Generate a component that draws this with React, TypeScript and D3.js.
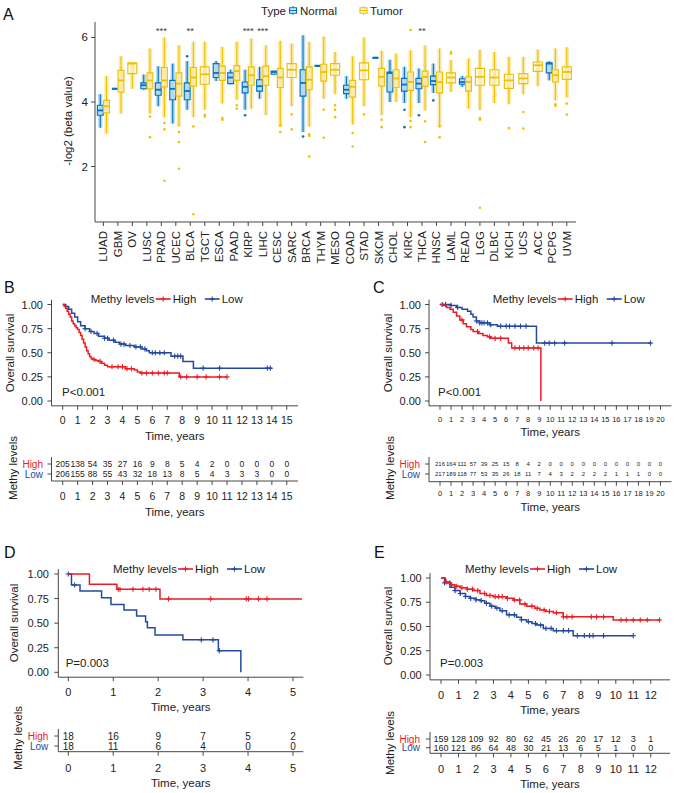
import React from "react";
import * as d3 from "d3";

const FONT = "'Liberation Sans', Arial, Helvetica, sans-serif";
const BLUE_A = "#0073C2";
const GOLD = "#EFC000";
const RED = "#EC1C24";
const BLUE = "#2548A2";
const AX = "#333";

// ---------------- Panel A data ----------------
const categories = ["LUAD","GBM","OV","LUSC","PRAD","UCEC","BLCA","TGCT","ESCA","PAAD","KIRP","LIHC","CESC","SARC","BRCA","THYM","MESO","COAD","STAD","SKCM","CHOL","KIRC","THCA","HNSC","LAML","READ","LGG","DLBC","KICH","UCS","ACC","PCPG","UVM"];
// [lower whisker, q1, median, q3, upper whisker]
const normalStats: (number[] | null)[] = [
  [3.20,3.59,3.74,3.90,4.24],
  [4.41,4.41,4.41,4.41,4.41],
  null,
  [4.38,4.41,4.52,4.59,4.85],
  [3.87,4.21,4.38,4.59,5.11],
  [3.33,4.07,4.41,4.67,5.19],
  [3.76,4.07,4.34,4.59,5.27],
  null,
  [4.65,4.76,4.90,5.19,5.27],
  [4.55,4.57,4.76,4.90,5.00],
  [3.76,4.28,4.47,4.62,5.00],
  [4.10,4.34,4.49,4.69,5.09],
  [4.86,4.86,4.93,4.96,4.96],
  null,
  [3.07,4.18,4.59,5.00,6.07],
  [5.12,5.12,5.12,5.12,5.12],
  null,
  [4.10,4.26,4.38,4.52,4.80],
  null,
  [5.37,5.37,5.37,5.37,5.37],
  [4.00,4.31,4.90,4.93,5.31],
  [3.97,4.34,4.54,4.73,5.09],
  [3.97,4.41,4.57,4.73,5.04],
  [4.28,4.54,4.65,4.80,5.19],
  null,
  [4.47,4.55,4.62,4.72,4.80],
  null, null, null, null, null,
  [4.67,4.90,5.19,5.21,5.26],
  null,
];
const tumorStats: number[][] = [
  [3.02,3.66,3.87,4.05,4.80],
  [3.64,4.31,4.67,4.98,5.42],
  [4.41,4.88,5.19,5.21,5.21],
  [3.64,4.41,4.67,4.90,5.66],
  [3.53,4.47,4.67,5.07,6.00],
  [3.24,4.18,4.57,4.90,5.76],
  [3.53,4.49,4.76,5.07,5.87],
  [3.76,4.55,4.86,5.09,5.87],
  [3.95,4.67,4.90,5.11,5.71],
  [4.07,4.67,4.96,5.13,5.87],
  [3.79,4.52,4.83,5.09,5.97],
  [3.59,4.52,4.80,5.11,5.76],
  [3.24,4.45,4.76,5.04,5.90],
  [3.87,4.76,5.00,5.19,5.81],
  [3.24,4.38,4.69,5.09,5.87],
  [4.10,4.65,4.93,5.17,6.03],
  [4.24,4.83,5.00,5.19,5.55],
  [3.30,4.15,4.47,4.67,5.42],
  [3.87,4.69,4.98,5.21,6.00],
  [3.59,4.49,4.78,5.04,5.59],
  [4.00,4.45,4.73,5.00,5.50],
  [3.53,4.36,4.62,4.93,5.60],
  [3.74,4.49,4.78,4.96,5.75],
  [3.22,4.28,4.62,4.93,5.66],
  [4.31,4.59,4.76,4.90,5.30],
  [3.79,4.34,4.62,4.78,5.35],
  [3.75,4.52,4.78,5.04,5.62],
  [3.97,4.52,4.76,5.00,5.55],
  [3.93,4.42,4.67,4.86,5.40],
  [4.24,4.57,4.73,4.88,5.40],
  [4.49,4.95,5.14,5.24,5.63],
  [4.05,4.62,4.83,5.00,5.66],
  [4.14,4.70,4.93,5.09,5.70],
];
const normalOutliers: [string, number][] = [
  ["BLCA",5.42],["BRCA",2.93],["KIRP",3.59],["KIRC",3.76],["KIRC",3.22],["THCA",3.59],["HNSC",4.05],
];
const tumorOutliers: [string, number][] = [
  ["LUSC",2.91],["LUSC",3.55],["PRAD",3.15],["PRAD",1.56],["PRAD",3.35],["UCEC",3.07],["UCEC",2.76],["UCEC",1.93],
  ["BLCA",3.24],["BLCA",0.52],["TGCT",3.60],["TGCT",3.55],["ESCA",3.50],["ESCA",3.45],["PAAD",3.90],["PAAD",3.80],
  ["CESC",3.07],["CESC",3.27],["SARC",3.62],["SARC",3.15],["BRCA",2.31],["BRCA",3.00],["BRCA",2.95],
  ["THYM",3.76],["THYM",2.89],["MESO",3.90],["MESO",3.76],["MESO",3.53],["COAD",3.04],["COAD",2.62],
  ["STAD",3.62],["SKCM",3.45],["SKCM",3.22],["KIRC",6.23],["KIRC",3.41],["KIRC",3.22],["THCA",2.76],["THCA",3.40],
  ["HNSC",3.25],["HNSC",2.91],["LAML",5.55],["LAML",5.50],["LGG",0.72],["LGG",3.50],["LGG",3.45],["KICH",3.19],
  ["UCS",3.69],["UCS",3.18],["PCPG",3.93],["PCPG",3.88],["UVM",3.95],["UVM",3.61],
];
const sigLabels: [string, string][] = [["PRAD","***"],["BLCA","**"],["KIRP","***"],["LIHC","***"],["THCA","**"]];
const yTicksA = [2, 4, 6];

// ---------------- KM data ----------------
const bHighT = [0,0.1,0.2,0.3,0.4,0.5,0.6,0.7,0.8,0.9,1.0,1.1,1.2,1.3,1.4,1.5,1.6,1.7,1.8,1.9,2.0,2.2,2.4,2.6,2.8,3.0,4.2,4.8,5.0,5.2,7.8,11.0];
const bHighS = [1,0.98,0.96,0.93,0.90,0.87,0.83,0.80,0.78,0.76,0.74,0.71,0.68,0.64,0.60,0.56,0.52,0.49,0.46,0.44,0.43,0.42,0.41,0.39,0.37,0.355,0.335,0.32,0.30,0.29,0.25,0.25];
const bHighC = [2.1,2.5,3.3,3.7,4.0,4.3,4.6,5.3,5.6,6.0,6.4,6.8,7.0,7.9,8.3,9.0,9.6,10.5,11.0];
const bLowT = [0,0.2,0.4,0.6,0.8,1.0,1.2,1.5,1.8,2.1,2.4,2.8,3.1,3.5,3.8,4.2,4.8,5.3,5.6,5.8,7.25,8.05,8.75,14.0];
const bLowS = [1,0.98,0.95,0.91,0.87,0.82,0.78,0.75,0.72,0.70,0.67,0.65,0.63,0.61,0.59,0.575,0.56,0.54,0.52,0.50,0.465,0.41,0.34,0.34];
const bLowC = [1.5,1.9,2.3,2.8,3.0,3.4,3.9,4.1,4.5,4.9,5.2,5.5,6.0,6.2,6.5,6.8,7.5,7.7,7.9,9.4,10.5,13.7,13.9];
const bRiskHigh = [205,138,54,35,27,16,9,8,5,4,2,0,0,0,0,0];
const bRiskLow = [206,155,88,55,43,32,18,13,8,5,4,3,3,3,0,0];

const cHighT = [0,0.3,0.6,0.9,1.2,1.5,1.8,2.1,2.4,2.8,3.0,3.5,3.9,4.3,4.6,6.2,6.5,9.15];
const cHighS = [1,0.99,0.97,0.95,0.92,0.88,0.84,0.80,0.77,0.74,0.72,0.70,0.68,0.665,0.65,0.60,0.55,0];
const cHighC = [2.0,3.4,4.5,5.0,5.5,6.8,7.2,7.6,8.0,8.5,8.9];
const cLowT = [0,1.0,1.5,2.0,2.5,2.8,3.0,3.3,3.6,4.5,5.2,8.75,19.1];
const cLowS = [1,0.99,0.97,0.95,0.93,0.90,0.87,0.83,0.81,0.79,0.775,0.60,0.60];
const cLowC = [0.2,0.5,1.0,1.6,3.3,3.6,3.8,4.0,4.3,4.6,5.5,6.0,6.3,6.8,7.3,7.8,9.5,9.9,10.4,11.3,15.6,19.1];
const cRiskHigh = [216,164,111,57,39,25,15,8,4,2,0,0,0,0,0,0,0,0,0,0,0];
const cRiskLow = [217,189,118,77,53,35,26,18,11,7,4,3,2,2,2,2,1,1,1,0,0];

const dHighT = [0,0.47,1.08,2.04,5.2];
const dHighS = [1,0.895,0.845,0.746,0.746];
const dHighC = [1.11,1.15,1.44,1.66,1.80,1.95,2.23,3.17,3.96,4.01,4.23,4.42];
const dLowT = [0,0.07,0.26,0.74,0.95,1.24,1.52,1.72,1.76,1.93,2.55,3.34,3.84];
const dLowS = [1,0.888,0.827,0.759,0.69,0.634,0.573,0.515,0.454,0.38,0.33,0.22,0];
const dLowC = [0,0.14,2.96,3.22,3.36];
const dRiskHigh = [18,16,9,7,5,2];
const dRiskLow = [18,11,6,4,0,0];

const eHighT = [0,0.25,0.5,0.8,1.1,1.5,1.85,2.23,2.6,3.0,3.75,4.13,4.51,4.9,5.37,5.66,6.0,6.42,6.99,9.85,12.5];
const eHighS = [1,0.96,0.93,0.915,0.90,0.885,0.87,0.84,0.82,0.807,0.79,0.773,0.732,0.71,0.687,0.67,0.655,0.642,0.60,0.567,0.567];
const eHighC = [0.3,0.6,0.9,1.2,1.5,1.8,2.1,2.5,2.8,3.1,3.3,3.5,3.8,4.2,4.5,4.8,5.2,5.5,5.9,6.2,6.6,7.0,7.2,7.5,8.6,8.9,9.3,10.3,10.6,11.0,11.4,11.8,12.5];
const eLowT = [0,0.2,0.51,0.8,1.09,1.4,1.66,2.0,2.23,2.5,2.8,3.1,3.37,3.75,4.32,4.6,4.9,5.2,5.47,5.85,6.42,7.56,10.99];
const eLowS = [1,0.95,0.904,0.87,0.84,0.81,0.79,0.775,0.766,0.74,0.71,0.69,0.663,0.62,0.595,0.57,0.55,0.53,0.515,0.48,0.457,0.405,0.405];
const eLowC = [0.2,0.5,0.8,1.1,1.4,1.7,2.0,2.3,2.6,2.9,3.2,3.5,3.9,4.2,4.6,5.0,5.4,5.7,6.0,6.3,6.6,7.0,7.3,7.8,8.2,8.5,8.7,9.3,11.0];
const eRiskHigh = [159,128,109,92,80,62,45,26,20,17,12,3,1];
const eRiskLow = [160,121,86,64,48,30,21,13,6,5,1,0,0];

const survTicks = [0, 0.25, 0.5, 0.75, 1];

function survAt(times: number[], surv: number[], t: number) {
  let s = surv[0];
  for (let i = 0; i < times.length; i++) if (times[i] <= t) s = surv[i];
  return s;
}

function Cross({ x, y, color, r = 3 }: { x: number; y: number; color: string; r?: number }) {
  return (
    <g stroke={color} strokeWidth={1.1}>
      <line x1={x - r} x2={x + r} y1={y} y2={y} />
      <line x1={x} x2={x} y1={y - r} y2={y + r} />
    </g>
  );
}

function PanelA() {
  const x = d3.scalePoint<string>().domain(categories).range([103.4, 566.8]);
  const y = d3.scaleLinear().domain([0.28, 6.48]).range([222, 22]);
  const left = 95, right = 576, bottom = 222, top = 22;

  const drawBox = (cx: number, w: number, s: number[], color: string, key: string, cloudOp: number) => {
    const [lo, q1, md, q3, hi] = s;
    const x0 = cx - w / 2, x1 = cx + w / 2;
    const flat = hi === lo;
    return (
      <g key={key}>
        {!flat && <line x1={cx} x2={cx} y1={y(hi)} y2={y(q3)} stroke={color} strokeWidth={1.1} />}
        {!flat && <line x1={cx} x2={cx} y1={y(q1)} y2={y(lo)} stroke={color} strokeWidth={1.1} />}
        <path d={`M${x0},${y(q3)}H${x1}V${y(q1)}H${x0}Z`} fill="#fff" stroke={color} strokeWidth={1.2} />
        {!flat && (
          <rect x={cx - 2.2} width={4.4} y={y(hi)} height={y(lo) - y(hi)} fill={color} opacity={cloudOp} />
        )}
        <line x1={x0} x2={x1} y1={y(md)} y2={y(md)} stroke={color} strokeWidth={flat ? 2.2 : 1.8} />
      </g>
    );
  };

  return (
    <g fontFamily={FONT}>
      <text x={3} y={20} fontSize={16} fill="#111">A</text>
      {/* legend */}
      <text x={261} y={10.5} fontSize={11.5} dominantBaseline="central" fill="#222">Type</text>
      <g>
        <line x1={293} x2={293} y1={6} y2={15} stroke={BLUE_A} strokeWidth={1} />
        <rect x={289.5} y={7.8} width={7} height={5.4} fill="#fff" stroke={BLUE_A} strokeWidth={1.1} />
        <line x1={289.5} x2={296.5} y1={10.5} y2={10.5} stroke={BLUE_A} strokeWidth={1.3} />
      </g>
      <text x={300} y={10.5} fontSize={11.5} dominantBaseline="central" fill="#222">Normal</text>
      <g>
        <line x1={363.5} x2={363.5} y1={6} y2={15} stroke={GOLD} strokeWidth={1} />
        <rect x={360} y={7.8} width={7} height={5.4} fill="#fff" stroke={GOLD} strokeWidth={1.1} />
        <line x1={360} x2={367} y1={10.5} y2={10.5} stroke={GOLD} strokeWidth={1.3} />
      </g>
      <text x={370} y={10.5} fontSize={11.5} dominantBaseline="central" fill="#222">Tumor</text>

      {/* boxes */}
      {categories.map((c, i) => {
        const cx = x(c)!;
        const ns = normalStats[i];
        const ts = tumorStats[i];
        if (ns) {
          return (
            <g key={c}>
              {drawBox(cx - 3.1, 5.8, ns, BLUE_A, c + "n", 0.28)}
              {drawBox(cx + 3.1, 5.8, ts, GOLD, c + "t", 0.33)}
            </g>
          );
        }
        return <g key={c}>{drawBox(cx, 9, ts, GOLD, c + "t", 0.33)}</g>;
      })}
      {tumorOutliers.map(([c, v], i) => {
        const off = normalStats[categories.indexOf(c)] ? 3.1 : 0;
        return <circle key={"to" + i} cx={x(c)! + off} cy={y(v)} r={1.3} fill={GOLD} />;
      })}
      {normalOutliers.map(([c, v], i) => (
        <circle key={"no" + i} cx={x(c)! - 3.1} cy={y(v)} r={1.3} fill={BLUE_A} />
      ))}
      {sigLabels.map(([c, s]) => (
        <text key={c} x={x(c)!} y={34} fontSize={9.5} textAnchor="middle" fill="#444">{s}</text>
      ))}

      {/* axes */}
      <line x1={left} x2={left} y1={top} y2={bottom} stroke={AX} strokeWidth={0.9} />
      <line x1={left} x2={right} y1={bottom} y2={bottom} stroke={AX} strokeWidth={0.9} />
      {yTicksA.map((t) => (
        <g key={t}>
          <line x1={left - 4} x2={left} y1={y(t)} y2={y(t)} stroke={AX} strokeWidth={0.9} />
          <text x={left - 7} y={y(t)} fontSize={11.5} textAnchor="end" dominantBaseline="central" fill="#222">{t}</text>
        </g>
      ))}
      {categories.map((c) => (
        <g key={"xt" + c}>
          <line x1={x(c)!} x2={x(c)!} y1={bottom} y2={bottom + 4} stroke={AX} strokeWidth={0.9} />
          <text transform={`translate(${x(c)!},${bottom + 9}) rotate(-90)`} fontSize={11.5} textAnchor="end" dominantBaseline="central" fill="#222">{c}</text>
        </g>
      ))}
      <text transform={`translate(68,121) rotate(-90)`} fontSize={11.5} textAnchor="middle" dominantBaseline="central" fill="#222">-log2 (beta value)</text>
    </g>
  );
}

type KMProps = {
  label: string; labelX: number; labelY: number;
  xDomain: [number, number]; xRange: [number, number];
  y0: number; y1: number; yLabelRight: number; survTitleX: number; survTitleY: number;
  ticks: number[]; tickFont: number; tickLabelY: number; xTitleY: number;
  pText: string; pX: number; pY: number;
  legendX: number; legendY: number;
  highT: number[]; highS: number[]; highC: number[];
  lowT: number[]; lowS: number[]; lowC: number[];
  riskHigh: number[]; riskLow: number[];
  riskHighY: number; riskLowY: number; riskAxisY: number; riskTickLabelY: number; riskTitleY: number;
  methyX: number; methyY: number; rowLabelRight: number; riskFont: number;
};

function KMPanel(p: KMProps) {
  const x = d3.scaleLinear().domain(p.xDomain).range(p.xRange);
  const y = d3.scaleLinear().domain([0, 1]).range([p.y0, p.y1]);
  const line = d3.line<[number, number]>().x((d) => x(d[0])).y((d) => y(d[1])).curve(d3.curveStepAfter);
  const axY = y(-0.05), topY = y(1.05);
  const [xl, xr] = p.xRange;
  const xc = (xl + xr) / 2;
  const series = [
    { t: p.lowT, s: p.lowS, c: p.lowC, color: BLUE },
    { t: p.highT, s: p.highS, c: p.highC, color: RED },
  ];
  const lx = p.legendX, ly = p.legendY;
  return (
    <g fontFamily={FONT} fill="#222">
      <text x={p.labelX} y={p.labelY} fontSize={16} fill="#111">{p.label}</text>
      {/* curves */}
      {series.map((sr, k) => (
        <g key={k}>
          <path d={line(sr.t.map((t, i) => [t, sr.s[i]] as [number, number])) || ""} fill="none" stroke={sr.color} strokeWidth={1.5} />
          {sr.c.map((ct, i) => (
            <Cross key={i} x={x(ct)} y={y(survAt(sr.t, sr.s, ct))} color={sr.color} r={2.6} />
          ))}
        </g>
      ))}
      {/* legend */}
      <text x={lx} y={ly} fontSize={11.5} dominantBaseline="central">Methy levels</text>
      <line x1={lx + 65} x2={lx + 80} y1={ly} y2={ly} stroke={RED} strokeWidth={1.6} />
      <Cross x={lx + 72.5} y={ly} color={RED} r={2.6} />
      <text x={lx + 82} y={ly} fontSize={11.5} dominantBaseline="central">High</text>
      <line x1={lx + 114} x2={lx + 129} y1={ly} y2={ly} stroke={BLUE} strokeWidth={1.6} />
      <Cross x={lx + 121.5} y={ly} color={BLUE} r={2.6} />
      <text x={lx + 131} y={ly} fontSize={11.5} dominantBaseline="central">Low</text>
      {/* axes */}
      <line x1={xl} x2={xl} y1={topY} y2={axY} stroke={AX} strokeWidth={0.9} />
      <line x1={xl} x2={xr} y1={axY} y2={axY} stroke={AX} strokeWidth={0.9} />
      {survTicks.map((t) => (
        <g key={t}>
          <line x1={xl - 4} x2={xl} y1={y(t)} y2={y(t)} stroke={AX} strokeWidth={0.9} />
          <text x={p.yLabelRight} y={y(t)} fontSize={11} textAnchor="end" dominantBaseline="central">{t.toFixed(2)}</text>
        </g>
      ))}
      {p.ticks.map((t) => (
        <g key={"x" + t}>
          <line x1={x(t)} x2={x(t)} y1={axY} y2={axY + 4} stroke={AX} strokeWidth={0.9} />
          <text x={x(t)} y={p.tickLabelY} fontSize={p.tickFont} textAnchor="middle" dominantBaseline="central">{t}</text>
        </g>
      ))}
      <text x={xc} y={p.xTitleY} fontSize={11.5} textAnchor="middle" dominantBaseline="central">Time, years</text>
      <text transform={`translate(${p.survTitleX},${p.survTitleY}) rotate(-90)`} fontSize={11.5} textAnchor="middle" dominantBaseline="central">Overall survival</text>
      <text x={p.pX} y={p.pY} fontSize={11.5} dominantBaseline="central">{p.pText}</text>
      {/* risk table */}
      <line x1={xl} x2={xl} y1={p.riskHighY - 7} y2={p.riskAxisY} stroke={AX} strokeWidth={0.9} />
      <line x1={xl} x2={xr} y1={p.riskAxisY} y2={p.riskAxisY} stroke={AX} strokeWidth={0.9} />
      {[p.riskHighY, p.riskLowY].map((ry) => (
        <line key={ry} x1={xl - 4} x2={xl} y1={ry} y2={ry} stroke={AX} strokeWidth={0.9} />
      ))}
      <text x={p.rowLabelRight} y={p.riskHighY} fontSize={10} textAnchor="end" dominantBaseline="central" fill={RED}>High</text>
      <text x={p.rowLabelRight} y={p.riskLowY} fontSize={10} textAnchor="end" dominantBaseline="central" fill={BLUE}>Low</text>
      {p.riskHigh.map((v, i) => (
        <text key={"rh" + i} x={x(p.ticks[i])} y={p.riskHighY} fontSize={p.riskFont} textAnchor="middle" dominantBaseline="central">{v}</text>
      ))}
      {p.riskLow.map((v, i) => (
        <text key={"rl" + i} x={x(p.ticks[i])} y={p.riskLowY} fontSize={p.riskFont} textAnchor="middle" dominantBaseline="central">{v}</text>
      ))}
      {p.ticks.map((t) => (
        <g key={"rx" + t}>
          <line x1={x(t)} x2={x(t)} y1={p.riskAxisY} y2={p.riskAxisY + 4} stroke={AX} strokeWidth={0.9} />
          <text x={x(t)} y={p.riskTickLabelY} fontSize={p.tickFont} textAnchor="middle" dominantBaseline="central">{t}</text>
        </g>
      ))}
      <text x={xc} y={p.riskTitleY} fontSize={11.5} textAnchor="middle" dominantBaseline="central">Time, years</text>
      <text transform={`translate(${p.methyX},${p.methyY}) rotate(-90)`} fontSize={11.5} textAnchor="middle" dominantBaseline="central">Methy levels</text>
    </g>
  );
}

export default function App() {
  return (
    <svg width={678} height={793} style={{ position: "absolute", left: 0, top: 0, background: "#fff" }}>
      <rect width={678} height={793} fill="#fff" />
      <PanelA />
      <KMPanel
        label="B" labelX={4} labelY={293}
        xDomain={[-0.75, 15.75]} xRange={[51.5, 298]} y0={401} y1={304.5}
        yLabelRight={43} survTitleX={10} survTitleY={353}
        ticks={d3.range(0, 16)} tickFont={10.5} tickLabelY={420} xTitleY={436}
        pText="P<0.001" pX={62} pY={392} legendX={90.7} legendY={299}
        highT={bHighT} highS={bHighS} highC={bHighC} lowT={bLowT} lowS={bLowS} lowC={bLowC}
        riskHigh={bRiskHigh} riskLow={bRiskLow}
        riskHighY={464} riskLowY={474} riskAxisY={481} riskTickLabelY={495.7} riskTitleY={511.7}
        methyX={12.5} methyY={468} rowLabelRight={43} riskFont={8.5}
      />
      <KMPanel
        label="C" labelX={373} labelY={293}
        xDomain={[-1, 21]} xRange={[429, 671.5]} y0={401} y1={304.5}
        yLabelRight={421} survTitleX={387.5} survTitleY={353}
        ticks={d3.range(0, 21)} tickFont={7.5} tickLabelY={419.3} xTitleY={432.3}
        pText="P<0.001" pX={438} pY={392} legendX={492.7} legendY={299}
        highT={cHighT} highS={cHighS} highC={cHighC} lowT={cLowT} lowS={cLowS} lowC={cLowC}
        riskHigh={cRiskHigh} riskLow={cRiskLow}
        riskHighY={464} riskLowY={474} riskAxisY={481.7} riskTickLabelY={493.3} riskTitleY={506.7}
        methyX={389.5} methyY={468} rowLabelRight={420} riskFont={6}
      />
      <KMPanel
        label="D" labelX={4} labelY={558}
        xDomain={[-0.223, 5.23]} xRange={[58.3, 303.3]} y0={672.3} y1={574}
        yLabelRight={49} survTitleX={14} survTitleY={623}
        ticks={d3.range(0, 6)} tickFont={11} tickLabelY={692.3} xTitleY={706.7}
        pText="P=0.003" pX={65.7} pY={663.3} legendX={113} legendY={569}
        highT={dHighT} highS={dHighS} highC={dHighC} lowT={dLowT} lowS={dLowS} lowC={dLowC}
        riskHigh={dRiskHigh} riskLow={dRiskLow}
        riskHighY={736} riskLowY={746} riskAxisY={751.7} riskTickLabelY={768.3} riskTitleY={782.7}
        methyX={17.5} methyY={738} rowLabelRight={48.3} riskFont={10}
      />
      <KMPanel
        label="E" labelX={374} labelY={558}
        xDomain={[-0.63, 13.1]} xRange={[430, 670]} y0={675} y1={578}
        yLabelRight={421.7} survTitleX={387.5} survTitleY={626}
        ticks={d3.range(0, 13)} tickFont={11} tickLabelY={695} xTitleY={710}
        pText="P=0.003" pX={440} pY={663.3} legendX={465} legendY={569}
        highT={eHighT} highS={eHighS} highC={eHighC} lowT={eLowT} lowS={eLowS} lowC={eLowC}
        riskHigh={eRiskHigh} riskLow={eRiskLow}
        riskHighY={739} riskLowY={747.7} riskAxisY={753.3} riskTickLabelY={769.3} riskTitleY={784}
        methyX={389.5} methyY={743} rowLabelRight={420} riskFont={9}
      />
    </svg>
  );
}
